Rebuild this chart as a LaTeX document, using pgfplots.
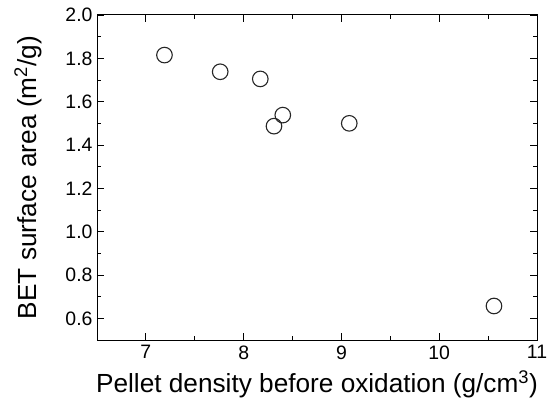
\documentclass[border=0pt]{standalone}
\usepackage{pgfplots}
\pgfplotsset{compat=1.18}
\usepackage{fontspec}
\setmainfont{Liberation Sans}
\begin{document}
\begin{tikzpicture}
  \begin{axis}[
      name=ax,
      scale only axis,
      width=440bp,
      height=325bp,
      xmin=6.5, xmax=11,
      ymin=0.5, ymax=2.0,
      xtick={7,8,9,10,11},
      ytick={0.6,0.8,1.0,1.2,1.4,1.6,1.8,2.0},
      yticklabel style={/pgf/number format/fixed,/pgf/number format/fixed zerofill,/pgf/number format/precision=1},
      minor tick num=1,
      tick align=inside,
      major tick length=7bp,
      minor tick length=4bp,
      tick style={black, line width=0.8bp},
      axis line style={line width=1bp},
      /pgf/number format/assume math mode=true,
      ticklabel style={font=\fontsize{19.5}{23}\selectfont},
      xticklabel style={yshift=-2bp},
      yticklabel style={xshift=-1bp},
      xlabel={Pellet density before oxidation (g/cm\textsuperscript{3})},
      ylabel={BET surface area (m\textsuperscript{2}/g)},
      label style={font=\fontsize{26.3}{31}\selectfont},
      xlabel style={yshift=-5bp},
      ylabel style={yshift=17bp},
    ]
    \addplot[only marks, mark=o, mark size=7.8bp, mark options={line width=1.1bp, draw=black!85}] coordinates {
        (7.19,1.815)
        (7.76,1.738)
        (8.17,1.705)
        (8.40,1.538)
        (8.31,1.487)
        (9.08,1.500)
        (10.56,0.657)
      };
  \end{axis}
  \pgfresetboundingbox
  \useasboundingbox ([xshift=-97bp,yshift=-65bp]ax.south west) rectangle ([xshift=10bp,yshift=15bp]ax.north east);
\end{tikzpicture}
\end{document}
